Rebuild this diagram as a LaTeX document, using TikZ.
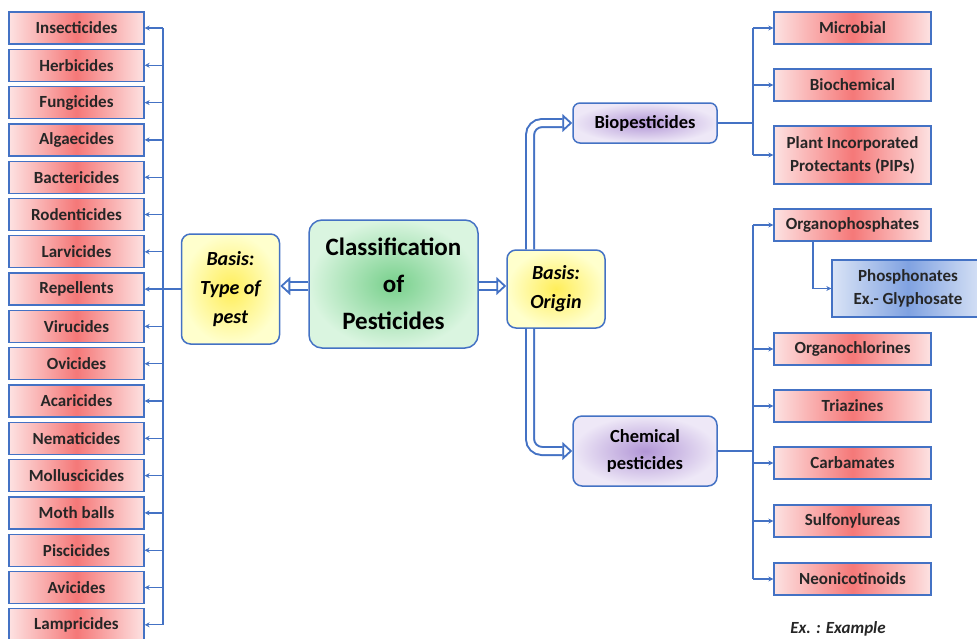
\documentclass[tikz,border=0pt]{standalone}
\usepackage{fontspec}
\setmainfont{Carlito}
\usetikzlibrary{arrows.meta,positioning,calc}
\definecolor{bord}{RGB}{68,114,196}
\definecolor{redc}{RGB}{245,120,120}
\definecolor{rede}{RGB}{253,226,226}
\definecolor{yelc}{RGB}{255,238,90}
\definecolor{yele}{RGB}{255,255,205}
\definecolor{grnc}{RGB}{120,208,140}
\definecolor{grne}{RGB}{218,245,224}
\definecolor{purc}{RGB}{178,150,214}
\definecolor{pure}{RGB}{238,232,247}
\definecolor{bluc}{RGB}{128,162,225}
\definecolor{blue2}{RGB}{218,228,246}
\tikzset{
  redbox/.style={draw=bord, line width=1.3pt, minimum width=135pt, minimum height=32pt,
    left color=rede, right color=rede, middle color=redc, font=\fontsize{17}{19}\selectfont\bfseries, text=black!85, inner sep=2pt},
  rredbox/.style={redbox, minimum width=157pt},
  roundbox/.style={draw=bord, line width=1.5pt, rounded corners=9pt, align=center},
  conn/.style={draw=bord, line width=1.3pt},
  arr/.style={conn, -{Stealth[length=5pt,width=5pt]}},
  dbl/.style={draw=bord, line width=2pt, double=white, double distance=6pt,
    -{Triangle[open, length=10pt, width=18pt, fill=white, line width=1.8pt]}},
}
\begin{document}
\begin{tikzpicture}[x=1pt,y=-1pt]
\useasboundingbox (0,0) rectangle (977,638);
% left list
\foreach \t [count=\i] in {Insecticides,Herbicides,Fungicides,Algaecides,Bactericides,Rodenticides,Larvicides,Repellents,Virucides,Ovicides,Acaricides,Nematicides,Molluscicides,Moth balls,Piscicides,Avicides,Lampricides}{
  \node[redbox] (l\i) at (76.5,{28+(\i-1)*37.3}) {\t};
}
\coordinate (lbus) at (163,0);
\draw[conn] (l1.east -| lbus) -- (l17.east -| lbus);
\foreach \i in {1,...,17}{
  \draw[arr] (l\i.east -| lbus) -- (l\i.east);
}
% central boxes
\node[roundbox, shading=radial, inner color=yelc, outer color=yele, minimum width=98pt, minimum height=110pt,
  font=\fontsize{20}{29}\selectfont\bfseries\itshape] (tp) at (230.5,289) {Basis:\\Type of\\pest};
\node[roundbox, shading=radial, inner color=grnc, outer color=grne, minimum width=169pt, minimum height=128pt, rounded corners=13pt,
  font=\fontsize{25}{37}\selectfont\bfseries] (cls) at (393.5,284) {Classification\\of\\Pesticides};
\node[roundbox, shading=radial, inner color=yelc, outer color=yele, minimum width=98pt, minimum height=78pt,
  font=\fontsize{20}{29}\selectfont\bfseries\itshape] (org) at (556,289) {Basis:\\Origin};
\draw[conn] (tp.west) -- (tp.west -| lbus);
\draw[dbl] (cls.west |- 0,286) -- (tp.east |- 0,286);
\draw[dbl] (cls.east |- 0,286) -- (org.west |- 0,286);
% biopesticides / chemical
\node[roundbox, shading=radial, inner color=purc, outer color=pure, minimum width=144pt, minimum height=40pt, rounded corners=7pt,
  font=\fontsize{18.5}{20}\selectfont\bfseries] (bio) at (645,123) {Biopesticides};
\node[roundbox, shading=radial, inner color=purc, outer color=pure, minimum width=144pt, minimum height=70pt, rounded corners=9pt,
  font=\fontsize{18.5}{27}\selectfont\bfseries] (chem) at (645,451) {Chemical\\pesticides};
\coordinate (ox) at (530,0);
\draw[dbl, rounded corners=12pt] (org.north -| ox) |- (bio.west);
\draw[dbl, rounded corners=12pt] (org.south -| ox) |- (chem.west);
% right top
\node[rredbox] (m1) at (852.5,28) {Microbial};
\node[rredbox] (m2) at (852.5,85) {Biochemical};
\node[rredbox, minimum height=58pt, align=center, font=\fontsize{17}{23}\selectfont\bfseries] (m3) at (852.5,155) {Plant Incorporated\\Protectants (PIPs)};
\coordinate (rbus) at (753,0);
\draw[conn] (bio.east) -- (bio.east -| rbus);
\draw[conn] (m1.west -| rbus) -- (m3.west -| rbus);
\foreach \n in {m1,m2,m3}{ \draw[arr] (\n.west -| rbus) -- (\n.west); }
% right bottom
\node[rredbox] (c1) at (852.5,225) {Organophosphates};
\node[rredbox] (c2) at (852.5,349) {Organochlorines};
\node[rredbox] (c3) at (852.5,406) {Triazines};
\node[rredbox] (c4) at (852.5,463) {Carbamates};
\node[rredbox] (c5) at (852.5,521) {Sulfonylureas};
\node[rredbox] (c6) at (852.5,579) {Neonicotinoids};
\node[draw=bord, line width=1.3pt, minimum width=152pt, minimum height=57pt, align=center,
  left color=blue2, right color=blue2, middle color=bluc, font=\fontsize{17}{23}\selectfont\bfseries, text=black!85] (ph) at (908,288.5) {Phosphonates\\Ex.- Glyphosate};
\draw[conn] (chem.east) -- (chem.east -| rbus);
\draw[conn] (c1.west -| rbus) -- (c6.west -| rbus);
\foreach \n in {c1,c2,c3,c4,c5,c6}{ \draw[arr] (\n.west -| rbus) -- (\n.west); }
\coordinate (px) at (813,0);
\draw[arr] (c1.south -| px) |- (ph.west);
\node[font=\fontsize{17}{19}\selectfont\bfseries\itshape, text=black!85] (ex) at (838,629) {Ex. : Example};
\end{tikzpicture}
\end{document}
